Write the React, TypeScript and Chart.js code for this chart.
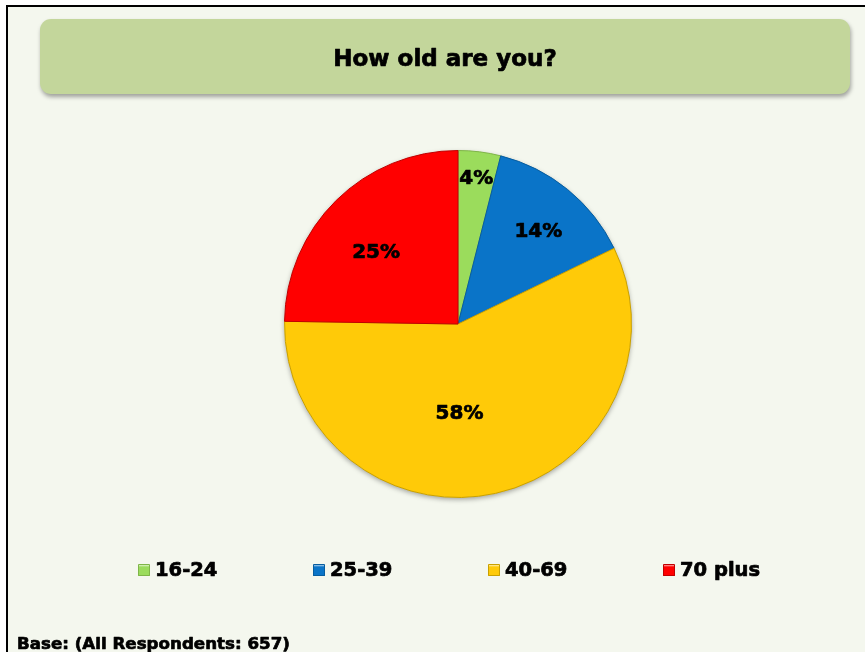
import React, { useEffect, useRef } from "react";
import { Chart, registerables } from "chart.js";

Chart.register(...registerables);

const titleText = "How old are you?";
const categories = ["16-24", "25-39", "40-69", "70 plus"];
const percentValues = [4, 14, 58, 25];
const baseNote = "Base: (All Respondents: 657)";

const sliceColors = ["#9bdc5c", "#0a74c8", "#ffca08", "#ff0000"];
const sliceBorders = ["#7fb548", "#075d9f", "#c9a000", "#c00000"];
// label placement style: radial fraction & angular tweak (degrees)
const labelStyle = [
  { r: 0.85, da: 0 },
  { r: 0.71, da: 1.5 },
  { r: 0.51, da: 11.5 },
  { r: 0.63, da: -4 },
];

const FONT = "'DejaVu Sans', Verdana, sans-serif";

function boldText(ctx: any, text: string, x: number, y: number) {
  ctx.lineWidth = 0.7;
  ctx.strokeStyle = "#000000";
  ctx.lineJoin = "round";
  ctx.strokeText(text, x, y);
  ctx.fillText(text, x, y);
}

const framePlugin = {
  id: "frame",
  beforeDraw(chart: any) {
    const ctx = chart.ctx;
    const W = chart.width;
    const H = chart.height;
    ctx.save();
    ctx.fillStyle = "#ffffff";
    ctx.fillRect(0, 0, W, H);
    ctx.fillStyle = "#f4f7ee";
    ctx.fillRect(7, 6, W - 7, H - 6);
    ctx.strokeStyle = "#000000";
    ctx.lineWidth = 2;
    ctx.beginPath();
    ctx.moveTo(7, H);
    ctx.lineTo(7, 6);
    ctx.lineTo(W, 6);
    ctx.stroke();
    // title box
    const x = 40, y = 19, w = 810, h = 75, rr = 11;
    ctx.save();
    ctx.shadowColor = "rgba(0,0,0,0.35)";
    ctx.shadowBlur = 4;
    ctx.shadowOffsetX = 1;
    ctx.shadowOffsetY = 3;
    ctx.fillStyle = "#c3d69b";
    ctx.beginPath();
    ctx.roundRect(x, y, w, h, rr);
    ctx.fill();
    ctx.restore();
    ctx.fillStyle = "#000000";
    ctx.font = `bold 23px ${FONT}`;
    ctx.textAlign = "center";
    ctx.textBaseline = "alphabetic";
    boldText(ctx, titleText, 445, 66);
    // legend
    ctx.font = `bold 19.5px ${FONT}`;
    ctx.textAlign = "left";
    categories.forEach((c, i) => {
      const mx = 138 + i * 175;
      const my = 564;
      const g = ctx.createLinearGradient(mx, my, mx, my + 12);
      g.addColorStop(0, "#ffffff");
      g.addColorStop(0.25, sliceColors[i]);
      g.addColorStop(1, sliceColors[i]);
      ctx.fillStyle = g;
      ctx.fillRect(mx, my, 12, 12);
      ctx.strokeStyle = sliceBorders[i];
      ctx.lineWidth = 1;
      ctx.strokeRect(mx + 0.5, my + 0.5, 11, 11);
      ctx.fillStyle = "#000000";
      boldText(ctx, c, mx + 17, 576);
    });
    // base note
    ctx.font = `bold 16.7px ${FONT}`;
    boldText(ctx, baseNote, 17, 649);
    ctx.restore();
  },
  beforeDatasetsDraw(chart: any) {
    const meta = chart.getDatasetMeta(0);
    const a = meta.data[0];
    if (!a) return;
    const ctx = chart.ctx;
    ctx.save();
    ctx.shadowColor = "rgba(0,0,0,0.35)";
    ctx.shadowBlur = 5;
    ctx.shadowOffsetY = 2;
    ctx.fillStyle = "#f4f7ee";
    ctx.beginPath();
    ctx.arc(a.x, a.y, a.outerRadius, 0, Math.PI * 2);
    ctx.fill();
    ctx.restore();
  },
  afterDatasetsDraw(chart: any) {
    const meta = chart.getDatasetMeta(0);
    const ctx = chart.ctx;
    ctx.save();
    ctx.font = `bold 20px ${FONT}`;
    ctx.fillStyle = "#000000";
    ctx.textAlign = "center";
    ctx.textBaseline = "middle";
    meta.data.forEach((arc: any, i: number) => {
      const p = arc.getProps(["x", "y", "startAngle", "endAngle", "outerRadius"], true);
      const st = labelStyle[i];
      const mid = (p.startAngle + p.endAngle) / 2 + (st.da * Math.PI) / 180;
      const r = p.outerRadius * st.r;
      boldText(ctx, percentValues[i] + "%", p.x + Math.cos(mid) * r, p.y + Math.sin(mid) * r + 1);
    });
    ctx.restore();
  },
};

export default function App() {
  const ref = useRef<HTMLCanvasElement | null>(null);
  useEffect(() => {
    if (!ref.current) return;
    const chart = new Chart(ref.current, {
      type: "pie",
      data: {
        labels: categories,
        datasets: [
          {
            data: percentValues,
            backgroundColor: sliceColors,
            borderColor: sliceBorders,
            borderWidth: 1,
          },
        ],
      },
      options: {
        responsive: false,
        animation: false,
        devicePixelRatio: 1,
        layout: { padding: { left: 284, right: 233, top: 150, bottom: 154 } },
        plugins: {
          legend: { display: false },
          title: { display: false },
          tooltip: { enabled: false },
        },
      },
      plugins: [framePlugin],
    });
    return () => chart.destroy();
  }, []);
  return (
    <div style={{ position: "absolute", left: 0, top: 0, width: 865, height: 652 }}>
      <canvas ref={ref} width={865} height={652} style={{ width: 865, height: 652, display: "block" }} />
    </div>
  );
}
